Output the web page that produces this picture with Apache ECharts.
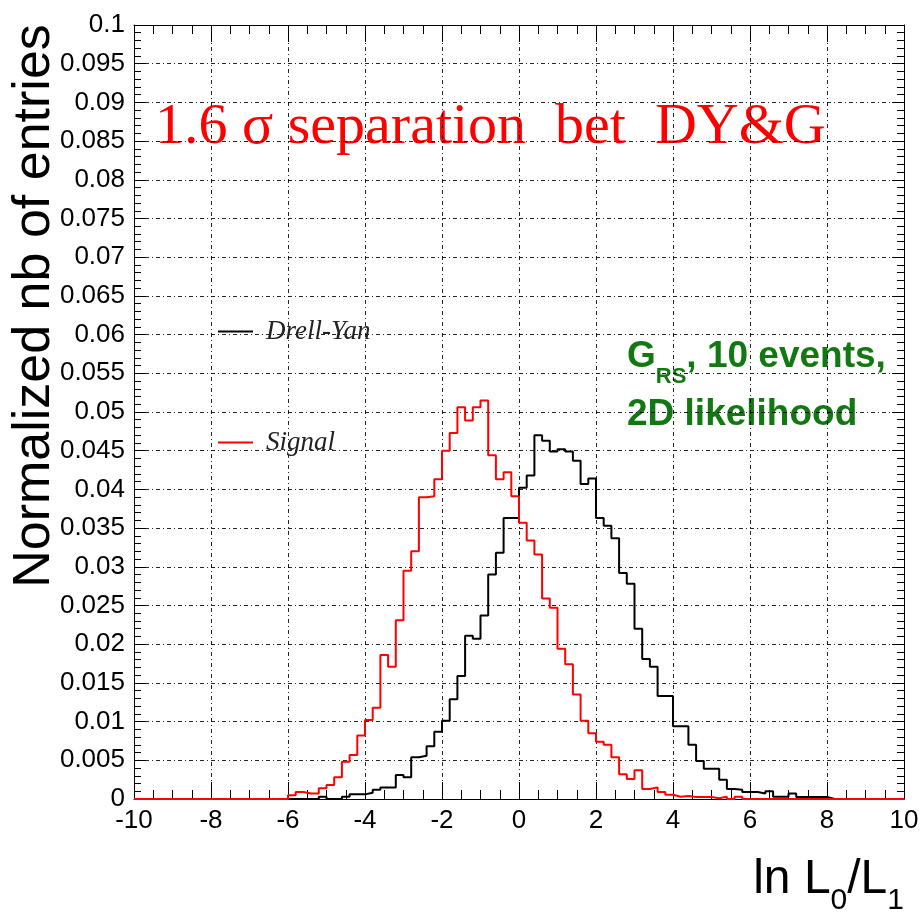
<!DOCTYPE html>
<html>
<head>
<meta charset="utf-8">
<style>html,body{margin:0;padding:0;background:#fff}#c{width:920px;height:913px}</style>
<script src="https://cdn.jsdelivr.net/npm/echarts@6/dist/echarts.min.js"></script>
</head>
<body>
<div id="c"></div>
<script>
// Histogram binning: 100 bins of width 0.2 from -10 to 10
const X_MIN = -10, X_MAX = 10, BIN_WIDTH = 0.2;
const X_TICK_LABELS = ['-10','-8','-6','-4','-2','0','2','4','6','8','10'];
const Y_MIN = 0, Y_MAX = 0.1, Y_STEP = 0.005;

// Drell-Yan (black) normalized bin contents
const drellYan = [
  0,0,0,0,0,0,0,0,0,0,
  0,0,0,0,0,0,0,0,0,0,
  0, 0, 0, 0, 0.0003, 0, 0, 0.0003, 0.0006, 0.0006,
  0.0008, 0.0012, 0.0015, 0.0015, 0.0031, 0.0028, 0.0054, 0.0056, 0.0068, 0.0087,
  0.0101, 0.0129, 0.0159, 0.0211, 0.0207, 0.0237, 0.0290, 0.0318, 0.0363, 0.0363,
  0.0402, 0.0418, 0.0470, 0.0463, 0.0449, 0.0452, 0.0449, 0.0437, 0.0407, 0.0414,
  0.0363, 0.0353, 0.0337, 0.0292, 0.0278, 0.0220, 0.0181, 0.0171, 0.0133, 0.0133,
  0.0094, 0.0094, 0.0070, 0.0049, 0.0039, 0.0039, 0.0025, 0.0013, 0.0012, 0.0009,
  0.0009, 0.0007, 0.0010, 0.0003, 0.0003, 0.0007, 0.00025, 0.00025, 0.00025, 0.00025,
  0,0,0,0,0,0,0,0,0,0
];

// Signal (red) normalized bin contents
const signal = [
  0,0,0,0,0,0,0,0,0,0,
  0,0,0,0,0,0,0,0,0,0,
  0.0005, 0.0009, 0.0007, 0.0007, 0.0014, 0.0018, 0.0028, 0.0048, 0.0057, 0.0082,
  0.0102, 0.0118, 0.0186, 0.0171, 0.0231, 0.0295, 0.0320, 0.0390, 0.0391, 0.0413,
  0.0450, 0.0473, 0.0506, 0.0489, 0.0506, 0.0515, 0.0444, 0.0413, 0.0422, 0.0391,
  0.0357, 0.0334, 0.0316, 0.0259, 0.0247, 0.0194, 0.0174, 0.0135, 0.0101, 0.0085,
  0.0074, 0.0070, 0.0054, 0.0032, 0.0026, 0.0037, 0.0013, 0.0015, 0.0009, 0.00055,
  0.0003, 0.0004, 0.00025, 0.00025, 0.00025, 0.0001, 0.0003, 0, 0.0003, 0,
  0,0,0,0,0,0,0,0,0,0,
  0,0,0,0,0,0,0,0,0,0
];

const SERIES_NAMES = ['Drell-Yan', 'Signal'];

function toSteps(vals) {
  const pts = vals.map((v, i) => [X_MIN + i * BIN_WIDTH, v]);
  pts.push([X_MAX, vals[vals.length - 1]]);
  return pts;
}

const chart = echarts.init(document.getElementById('c'), null, {renderer: 'canvas'});
const gridStyle = {color: '#000', width: 1, type: [4, 3, 1, 3], opacity: 0.85};
const labelFont = {fontFamily: 'Liberation Sans', fontSize: 26, color: '#000'};

const xBase = {
  type: 'value', min: X_MIN, max: X_MAX, interval: 2,
  axisLine: {show: true, onZero: false, lineStyle: {color: '#000', width: 1}},
  minorTick: {show: true, splitNumber: 4, length: 9, lineStyle: {color: '#000', width: 1}}
};
const yBase = {
  type: 'value', min: Y_MIN, max: Y_MAX, interval: Y_STEP,
  axisLine: {show: true, onZero: false, lineStyle: {color: '#000', width: 1}},
  minorTick: {show: true, splitNumber: 5, length: 7, lineStyle: {color: '#000', width: 1}}
};

chart.setOption({
  animation: false,
  backgroundColor: '#fff',
  grid: {left: 134, right: 16, top: 25, bottom: 114, outerBoundsMode: 'none', containLabel: false},
  xAxis: [
    Object.assign({}, xBase, {
      position: 'bottom',
      axisTick: {show: true, inside: true, length: 17, lineStyle: {color: '#000', width: 1}},
      axisLabel: Object.assign({margin: 9, formatter: (v) => X_TICK_LABELS[Math.round((v - X_MIN) / 2)]}, labelFont),
      splitLine: {show: true, lineStyle: gridStyle}
    }),
    Object.assign({}, xBase, {
      position: 'top',
      axisTick: {show: true, inside: true, length: 17, lineStyle: {color: '#000', width: 1}},
      axisLabel: {show: false},
      splitLine: {show: false}
    })
  ],
  yAxis: [
    Object.assign({}, yBase, {
      position: 'left',
      axisTick: {show: true, inside: true, length: 12, lineStyle: {color: '#000', width: 1}},
      axisLabel: Object.assign({margin: 9}, labelFont),
      splitLine: {show: true, lineStyle: gridStyle}
    }),
    Object.assign({}, yBase, {
      position: 'right',
      axisTick: {show: true, inside: true, length: 12, lineStyle: {color: '#000', width: 1}},
      axisLabel: {show: false},
      splitLine: {show: false}
    })
  ],
  legend: {
    orient: 'vertical', left: 213, top: 313, itemGap: 84,
    icon: 'rect', itemWidth: 35, itemHeight: 2,
    data: SERIES_NAMES,
    textStyle: {fontFamily: 'Liberation Serif', fontStyle: 'italic', fontSize: 27, color: '#222', padding: [0, 0, 0, 8]}
  },
  series: [
    {
      name: SERIES_NAMES[0], type: 'line', step: 'end', data: toSteps(drellYan),
      showSymbol: false, symbol: 'none', color: '#000',
      lineStyle: {color: '#000', width: 2}, z: 3
    },
    {
      name: SERIES_NAMES[1], type: 'line', step: 'end', data: toSteps(signal),
      showSymbol: false, symbol: 'none', color: '#ff0000',
      lineStyle: {color: '#ff0000', width: 2}, z: 4
    }
  ],
  graphic: [
    {
      type: 'text', x: 35, y: 306, rotation: Math.PI / 2,
      style: {text: 'Normalized nb of entries', font: '52px "Liberation Sans"', fill: '#000', align: 'center', verticalAlign: 'middle'}
    },
    {
      type: 'text', x: 904, y: 880,
      style: {
        text: '{m|ln L}{s|0}{m|/L}{s|1}', align: 'right', verticalAlign: 'middle',
        rich: {
          m: {fontFamily: 'Liberation Sans', fontSize: 48, lineHeight: 71, fill: '#000', verticalAlign: 'middle'},
          s: {fontFamily: 'Liberation Sans', fontSize: 30, lineHeight: 30, fill: '#000', verticalAlign: 'bottom'}
        }
      }
    },
    {
      type: 'text', x: 155, y: 128,
      style: {text: '1.6 \u03c3 separation  bet  DY&G', font: '58px "Liberation Serif"', fill: '#ff0000', align: 'left', verticalAlign: 'middle'}
    },
    {
      type: 'text', x: 627, y: 357,
      style: {
        text: '{m|G}{s|RS}{m|, 10 events,}', align: 'left', verticalAlign: 'middle',
        rich: {
          m: {fontFamily: 'Liberation Sans', fontWeight: 'bold', fontSize: 37, lineHeight: 62, fill: '#127812', verticalAlign: 'middle'},
          s: {fontFamily: 'Liberation Sans', fontWeight: 'bold', fontSize: 22, lineHeight: 20, fill: '#127812', verticalAlign: 'bottom'}
        }
      }
    },
    {
      type: 'text', x: 627, y: 415,
      style: {text: '2D likelihood', font: 'bold 37px "Liberation Sans"', fill: '#127812', align: 'left', verticalAlign: 'middle'}
    }
  ]
});
</script>
</body>
</html>
